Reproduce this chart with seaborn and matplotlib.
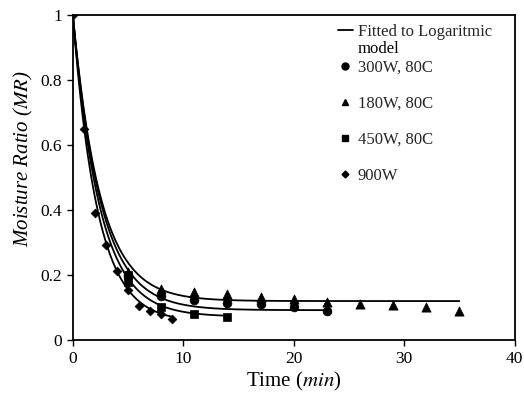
"""
Moisture ratio vs drying time, with fitted logarithmic-model curves.
"""

import matplotlib.pyplot as plt
import numpy as np
import pandas as pd
import seaborn as sns
from matplotlib.lines import Line2D

# ---------------------------------------------------------------------------
# Data
# ---------------------------------------------------------------------------
SERIES = ["300W, 80C", "180W, 80C", "450W, 80C", "900W"]
MARKERS = {"300W, 80C": "o", "180W, 80C": "^", "450W, 80C": "s", "900W": "D"}

t_300 = [5, 8, 11, 14, 17, 20, 23]
mr_300 = [0.20, 0.137, 0.123, 0.113, 0.110, 0.101, 0.090]

t_180 = [5, 8, 11, 14, 17, 20, 23, 26, 29, 32, 35]
mr_180 = [0.21, 0.156, 0.149, 0.141, 0.134, 0.127, 0.118, 0.111, 0.108, 0.103, 0.090]

t_450 = [5, 5, 8, 11, 14]
mr_450 = [0.20, 0.18, 0.103, 0.079, 0.072]

t_900 = [0, 1, 2, 3, 4, 5, 6, 7, 8, 9]
mr_900 = [1.0, 0.65, 0.39, 0.293, 0.214, 0.155, 0.106, 0.090, 0.080, 0.064]

# Logarithmic model MR = a * exp(-k t) + c, estimated from the drawn curves
fit_a = [0.908, 0.88, 0.928, 0.945]
fit_k = [0.398, 0.402, 0.413, 0.449]
fit_c = [0.092, 0.12, 0.072, 0.055]

X_TICKS = [0, 10, 20, 30, 40]
Y_TICKS = [0, 0.2, 0.4, 0.6, 0.8, 1]
Y_TICK_LABELS = ["0", "0.2", "0.4", "0.6", "0.8", "1"]

# ---------------------------------------------------------------------------
# Build tables
# ---------------------------------------------------------------------------
times = [t_300, t_180, t_450, t_900]
values = [mr_300, mr_180, mr_450, mr_900]

points = pd.concat(
    [pd.DataFrame({"time": t, "mr": v, "series": s}) for s, t, v in zip(SERIES, times, values)],
    ignore_index=True,
)

fit_rows = []
for s, t, a, k, c in zip(SERIES, times, fit_a, fit_k, fit_c):
    tt = np.linspace(0, max(t), 200)
    fit_rows.append(pd.DataFrame({"time": tt, "mr": a * np.exp(-k * tt) + c, "series": s}))
fits = pd.concat(fit_rows, ignore_index=True)

# ---------------------------------------------------------------------------
# Plot
# ---------------------------------------------------------------------------
sns.set_theme(style="ticks")
plt.rcParams["font.family"] = ["Liberation Serif", "DejaVu Serif"]
plt.rcParams["mathtext.fontset"] = "stix"

fig, ax = plt.subplots(figsize=(5.24, 4.01), dpi=100)
fig.subplots_adjust(left=0.139, right=0.982, top=0.962, bottom=0.152)

sns.lineplot(
    data=fits, x="time", y="mr", units="series", estimator=None,
    color="black", linewidth=1.3, ax=ax, legend=False, sort=False,
)

sizes = {"o": 40, "^": 44, "s": 40, "D": 20}
for s in SERIES:
    m = MARKERS[s]
    sns.scatterplot(
        data=points[points["series"] == s], x="time", y="mr",
        marker=m, s=sizes[m], color="black", edgecolor="black",
        linewidth=0.5, ax=ax, legend=False, zorder=3,
    )

ax.set_xlim(0, 40)
ax.set_ylim(0, 1)
ax.set_xticks(X_TICKS)
ax.set_xticklabels([str(x) for x in X_TICKS])
ax.set_yticks(Y_TICKS)
ax.set_yticklabels(Y_TICK_LABELS)
ax.tick_params(direction="out", length=4, width=1, colors="black", labelsize=12.5, pad=4)

for spine in ax.spines.values():
    spine.set_visible(True)
    spine.set_color("black")
    spine.set_linewidth(1.3)

ax.set_xlabel("Time ($\\it{min}$)", fontsize=15, color="black", labelpad=2)
ax.set_ylabel("Moisture Ratio ($\\it{MR}$)", fontsize=15, color="black", style="italic")
ax.yaxis.set_label_coords(-0.085, 0.56)

handles = [Line2D([], [], color="black", linewidth=1.3)]
labels = ["Fitted to Logaritmic"]
leg_sizes = {"o": 5, "^": 5, "s": 5, "D": 3.5}
for s in SERIES:
    m = MARKERS[s]
    handles.append(Line2D([], [], linestyle="none", marker=m, markersize=leg_sizes[m],
                          color="black"))
    labels.append(s)

leg = ax.legend(
    handles, labels, loc="upper left", bbox_to_anchor=(0.585, 0.995),
    frameon=False, fontsize=12, handlelength=0.9, handletextpad=0.3,
    labelspacing=1.2, borderaxespad=0.0,
)

# second line of the first legend entry, hanging under it as in the original
fig.canvas.draw()
first = leg.get_texts()[0].get_window_extent().transformed(ax.transAxes.inverted())
ax.text(first.x0, first.y0 - 0.005, "model", transform=ax.transAxes,
        fontsize=12, va="top", ha="left", color="black")

fig.savefig("out.png", dpi=100)
